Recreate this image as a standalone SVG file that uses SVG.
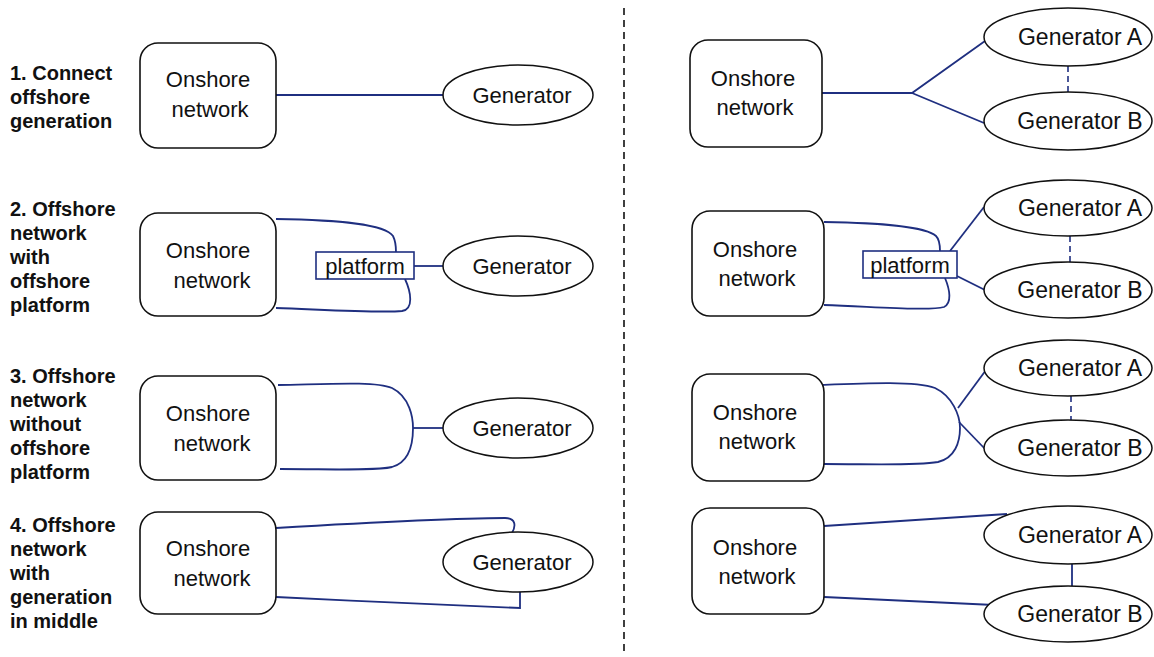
<svg xmlns="http://www.w3.org/2000/svg" width="1154" height="657" viewBox="0 0 1154 657">
<style>
.lbl{font-family:"Liberation Sans",Arial,sans-serif;font-weight:bold;font-size:20px;fill:#111}
.t{font-family:"Liberation Sans",Arial,sans-serif;font-size:22px;fill:#111;text-anchor:middle}
.tr{font-family:"Liberation Sans",Arial,sans-serif;font-size:23px;fill:#111;text-anchor:middle}
.box{fill:#fff;stroke:#111;stroke-width:1.6}
.gen{fill:#fff;stroke:#111;stroke-width:1.5}
.plat{fill:#fff;stroke:#1f2f80;stroke-width:1.6}
.c{fill:none;stroke:#1f2f80;stroke-width:1.8}
.d{fill:none;stroke:#1f2f80;stroke-width:1.6;stroke-dasharray:6 4}
.div{fill:none;stroke:#111;stroke-width:1.6;stroke-dasharray:7 5}
</style>
<rect width="1154" height="657" fill="#fff"/>
<g id="labels">
<text class="lbl" x="10" y="80">1. Connect</text>
<text class="lbl" x="10" y="104">offshore</text>
<text class="lbl" x="10" y="128">generation</text>
<text class="lbl" x="10" y="216">2. Offshore</text>
<text class="lbl" x="10" y="240">network</text>
<text class="lbl" x="10" y="264">with</text>
<text class="lbl" x="10" y="288">offshore</text>
<text class="lbl" x="10" y="312">platform</text>
<text class="lbl" x="10" y="383">3. Offshore</text>
<text class="lbl" x="10" y="407">network</text>
<text class="lbl" x="10" y="431">without</text>
<text class="lbl" x="10" y="455">offshore</text>
<text class="lbl" x="10" y="479">platform</text>
<text class="lbl" x="10" y="532">4. Offshore</text>
<text class="lbl" x="10" y="556">network</text>
<text class="lbl" x="10" y="580">with</text>
<text class="lbl" x="10" y="604">generation</text>
<text class="lbl" x="10" y="628">in middle</text>
</g>
<g id="divider"><line class="div" x1="624" y1="8" x2="624" y2="652"/></g>
<g id="connectors">
<line class="c" x1="276" y1="95" x2="443" y2="95"/>
<path class="c" d="M276 219 C340 220 385 224 393 236 C396 242 396 248 396 252"/>
<path class="c" d="M276 308 C330 310 380 313 402 311 C414 309 411 292 405 279"/>
<line class="c" x1="414" y1="266" x2="443" y2="266"/>
<path class="c" d="M278 385 C330 384 375 381 392 388 C410 397 413 418 413 428 C413 442 410 462 392 467 C375 471 330 469 280 469"/>
<line class="c" x1="413" y1="428" x2="443" y2="428"/>
<path class="c" d="M276 528 C360 523 460 518 505 518 C516 518 516 526 512 533"/>
<path class="c" d="M276 597 C360 601 460 606 520 608 L520 591"/>
<path class="c" d="M822 93 L912 93 L985 41 M912 93 L984 123"/>
<line class="d" x1="1068" y1="66" x2="1068" y2="92"/>
<path class="c" d="M824 222 C880 223 925 226 936 236 C940 240 940 246 940 251"/>
<path class="c" d="M824 305 C880 307 930 311 944 307 C952 303 950 290 945 278"/>
<line class="c" x1="950" y1="251" x2="984" y2="207"/>
<line class="c" x1="957" y1="276" x2="985" y2="290"/>
<line class="d" x1="1070" y1="236" x2="1070" y2="262"/>
<path class="c" d="M822 385 C870 383 915 381 935 388 C952 396 960 415 960 428 C960 442 955 458 938 462 C915 466 870 464 824 464"/>
<line class="c" x1="958" y1="408" x2="986" y2="370"/>
<line class="c" x1="959" y1="422" x2="986" y2="450"/>
<line class="d" x1="1071" y1="396" x2="1071" y2="421"/>
<line class="c" x1="824" y1="526" x2="1007" y2="514"/>
<line class="c" x1="824" y1="597" x2="994" y2="605"/>
<line class="c" x1="1072" y1="564" x2="1072" y2="586"/>
</g>
<g id="on1"><rect class="box" x="140" y="43" width="136" height="105" rx="18"/><text class="t" x="208" y="87">Onshore</text><text class="t" x="210" y="117">network</text></g>
<g id="gen1"><ellipse class="gen" cx="518" cy="95" rx="75" ry="30"/><text class="t" x="522" y="103">Generator</text></g>
<g id="on2"><rect class="box" x="140" y="213" width="136" height="103" rx="18"/><text class="t" x="208" y="258">Onshore</text><text class="t" x="212" y="288">network</text></g>
<g id="plat2"><rect class="plat" x="316" y="252" width="98" height="27"/><text class="t" x="365" y="274">platform</text></g>
<g id="gen2"><ellipse class="gen" cx="518" cy="266" rx="75" ry="30"/><text class="t" x="522" y="274">Generator</text></g>
<g id="on3"><rect class="box" x="140" y="376" width="136" height="104" rx="18"/><text class="t" x="208" y="421">Onshore</text><text class="t" x="212" y="451">network</text></g>
<g id="gen3"><ellipse class="gen" cx="518" cy="428" rx="75" ry="30"/><text class="t" x="522" y="436">Generator</text></g>
<g id="on4"><rect class="box" x="140" y="512" width="136" height="102" rx="18"/><text class="t" x="208" y="556">Onshore</text><text class="t" x="212" y="586">network</text></g>
<g id="gen4"><ellipse class="gen" cx="518" cy="562" rx="75" ry="30"/><text class="t" x="522" y="570">Generator</text></g>
<g id="ron1"><rect class="box" x="690" y="40" width="132" height="107" rx="18"/><text class="t" x="753" y="86">Onshore</text><text class="t" x="755" y="115">network</text></g>
<g id="rgA1"><ellipse class="gen" cx="1068" cy="37" rx="84" ry="29"/><text class="tr" x="1080" y="45">Generator A</text></g>
<g id="rgB1"><ellipse class="gen" cx="1068" cy="121" rx="84" ry="29"/><text class="tr" x="1080" y="129">Generator B</text></g>
<g id="ron2"><rect class="box" x="692" y="211" width="132" height="105" rx="18"/><text class="t" x="755" y="257">Onshore</text><text class="t" x="757" y="286">network</text></g>
<g id="rplat2"><rect class="plat" x="863" y="251" width="94" height="27"/><text class="t" x="910" y="273">platform</text></g>
<g id="rgA2"><ellipse class="gen" cx="1068" cy="208" rx="84" ry="28"/><text class="tr" x="1080" y="216">Generator A</text></g>
<g id="rgB2"><ellipse class="gen" cx="1068" cy="290" rx="84" ry="28"/><text class="tr" x="1080" y="298">Generator B</text></g>
<g id="ron3"><rect class="box" x="692" y="374" width="132" height="107" rx="18"/><text class="t" x="755" y="420">Onshore</text><text class="t" x="757" y="449">network</text></g>
<g id="rgA3"><ellipse class="gen" cx="1068" cy="368" rx="84" ry="28"/><text class="tr" x="1080" y="376">Generator A</text></g>
<g id="rgB3"><ellipse class="gen" cx="1068" cy="448" rx="84" ry="28"/><text class="tr" x="1080" y="456">Generator B</text></g>
<g id="ron4"><rect class="box" x="692" y="508" width="132" height="106" rx="18"/><text class="t" x="755" y="555">Onshore</text><text class="t" x="757" y="584">network</text></g>
<g id="rgA4"><ellipse class="gen" cx="1068" cy="535" rx="84" ry="29"/><text class="tr" x="1080" y="543">Generator A</text></g>
<g id="rgB4"><ellipse class="gen" cx="1068" cy="614" rx="84" ry="28"/><text class="tr" x="1080" y="622">Generator B</text></g>
</svg>
